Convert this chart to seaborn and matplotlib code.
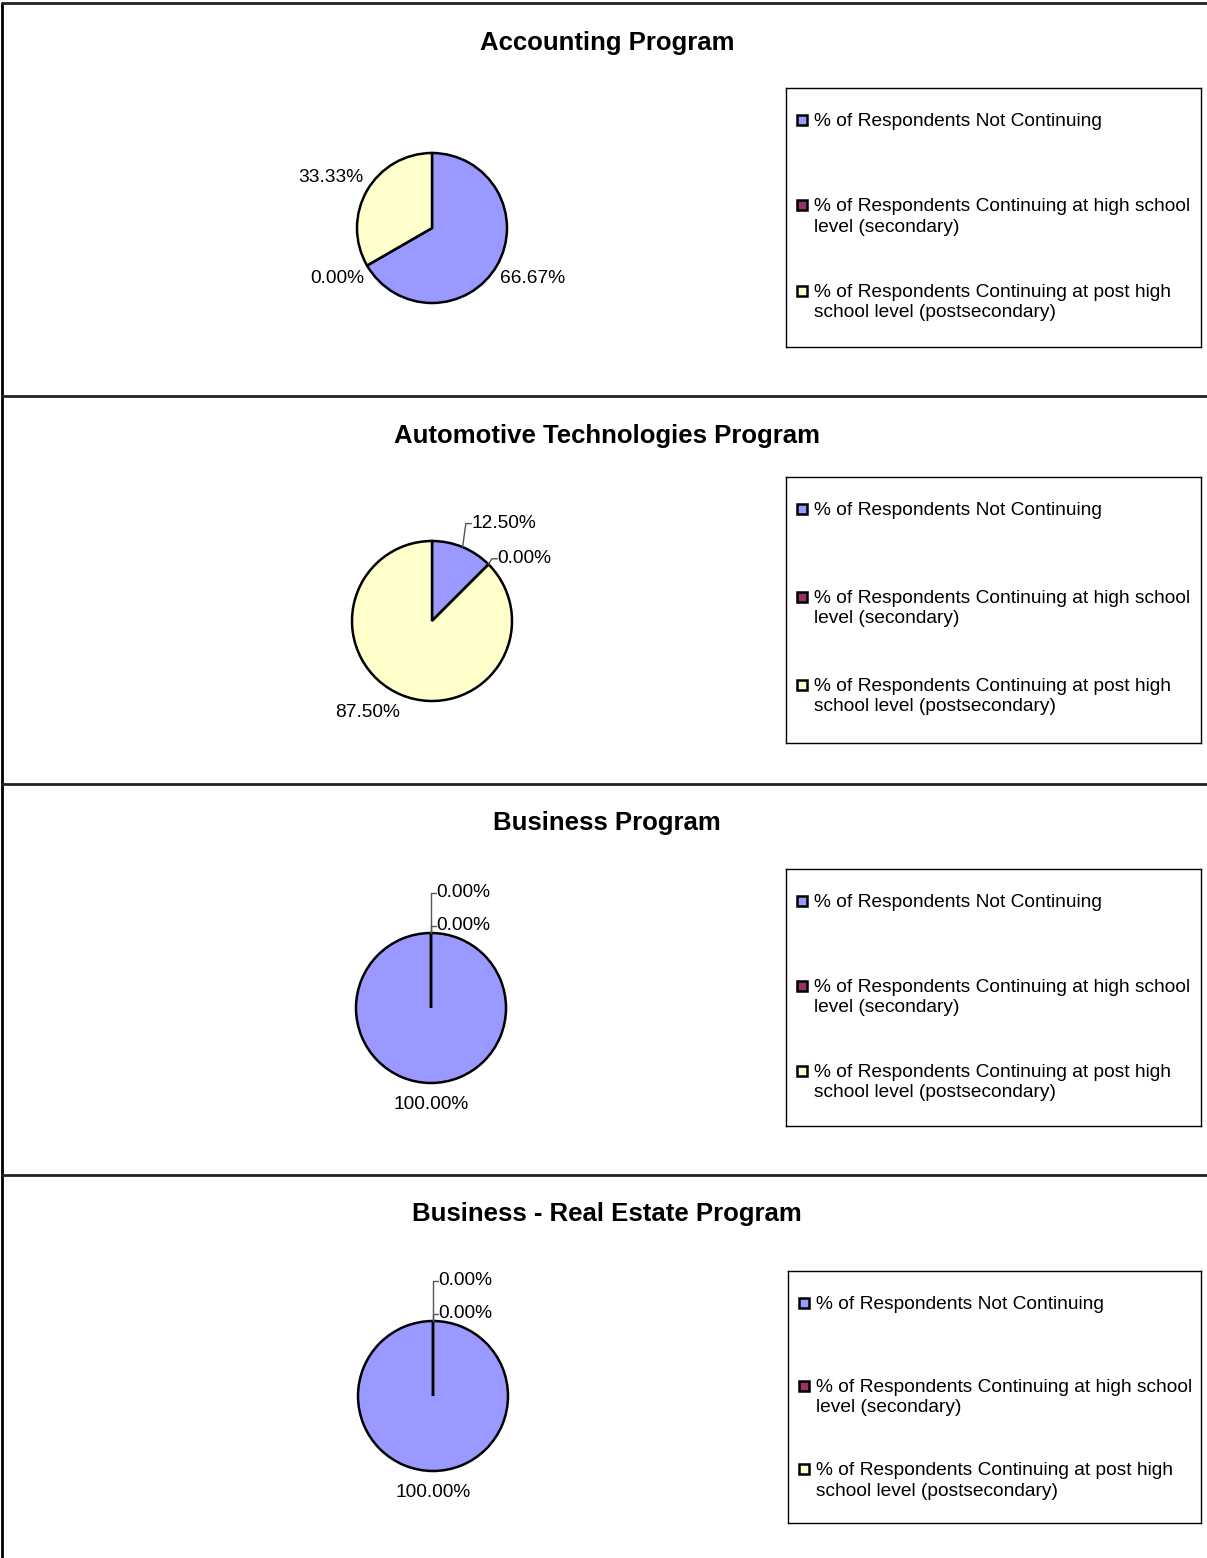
import numpy as np
import matplotlib
matplotlib.use("Agg")
import matplotlib.pyplot as plt
from matplotlib.patches import Rectangle
import seaborn as sns

# ---- data ----
programs = ["Accounting Program", "Automotive Technologies Program",
            "Business Program", "Business - Real Estate Program"]
not_continuing = [66.67, 12.50, 100.00, 100.00]
continuing_secondary = [0.00, 0.00, 0.00, 0.00]
continuing_postsecondary = [33.33, 87.50, 0.00, 0.00]
categories = ["% of Respondents Not Continuing",
              "% of Respondents Continuing at high school\nlevel (secondary)",
              "% of Respondents Continuing at post high\nschool level (postsecondary)"]

sns.set_theme(style="white")
plt.rcParams['font.family'] = ['Liberation Sans', 'DejaVu Sans']
colors = sns.color_palette(["#9999FF", "#993366", "#FFFFCC"])

W, H = 1207, 1558
fig = plt.figure(figsize=(W / 100, H / 100), dpi=100)

# layout (pixels)
panel_tops = [3, 396, 784, 1175]
title_y = [43, 436, 823, 1214]
pie_center = [(432, 228), (432, 621), (431, 1008), (433, 1396)]
pie_radius = [75, 80, 75, 75]
legend_box = [(786, 88, 1201, 347), (786, 477, 1201, 743),
              (786, 869, 1201, 1126), (788, 1271, 1201, 1523)]
use_leaders = [False, True, True, True]
FS = 13.8


def fx(x):
    return x / W


def fy(y):
    return 1 - y / H


# panel frame lines
bg = fig.add_axes([0, 0, 1, 1])
bg.set_xlim(0, W)
bg.set_ylim(H, 0)
bg.axis("off")
bg.plot([2, 2], [3, H], color="black", lw=2)
for t in panel_tops:
    bg.plot([2, W], [t, t], color="#222222", lw=2)

LIM = 1.7
for i, name in enumerate(programs):
    fig.text(0.503, fy(title_y[i]), name, ha="center", va="center",
             fontsize=18.5, fontweight="bold", color="black")

    cx, cy = pie_center[i]
    r = pie_radius[i]
    side = 2 * LIM * r
    ax = fig.add_axes([fx(cx - side / 2), fy(cy + side / 2), side / W, side / H])

    vals = [not_continuing[i], continuing_secondary[i], continuing_postsecondary[i]]
    ax.pie(vals, colors=colors, startangle=90, counterclock=False,
           wedgeprops=dict(edgecolor="black", linewidth=1.8))
    ax.set_xlim(-LIM, LIM)
    ax.set_ylim(-LIM, LIM)
    ax.set_aspect("equal")
    ax.axis("off")

    # data labels
    start = 90.0
    total = sum(vals)
    leader_labels = []
    for v in vals:
        span = 360.0 * v / total
        mid = np.deg2rad(start - span / 2)
        start -= span
        ex, ey = np.cos(mid), np.sin(mid)
        lab = f"{v:.2f}%"
        if use_leaders[i] and v < 20:
            ly = 1.1 * ey
            # push an earlier nearby label upward
            for other in leader_labels:
                if abs(other["ex"] - ex) < 0.5 and abs(other["y"] - ly) < 0.4:
                    other["y"] = ly + 0.44
            leader_labels.append(dict(ex=ex, ey=ey, y=ly, text=lab))
        elif abs(ex) < 0.05:
            ax.text(0, 1.29 * ey, lab, ha="center", va="center",
                    fontsize=FS, color="black")
        else:
            ha = "left" if ex > 0 else "right"
            va = "top" if ey < 0 else "bottom"
            ax.text(1.05 * ex, 1.12 * ey, lab, ha=ha, va=va,
                    fontsize=FS, color="black")

    for lb in leader_labels:
        ex, ey, ly = lb["ex"], lb["ey"], lb["y"]
        elbow_x = ex + (0.04 if abs(ex) > 0.05 else 0.0)
        ax.plot([ex, elbow_x, elbow_x + 0.07], [ey, ly, ly],
                color="#555555", lw=1, zorder=1)
        ax.text(elbow_x + 0.07, ly, lb["text"], ha="left", va="center",
                fontsize=FS, color="black")

    # legend box
    x0, y0, x1, y1 = legend_box[i]
    lg = fig.add_axes([fx(x0), fy(y1), (x1 - x0) / W, (y1 - y0) / H])
    lg.set_xlim(0, x1 - x0)
    lg.set_ylim(y1 - y0, 0)
    lg.set_xticks([])
    lg.set_yticks([])
    for s in lg.spines.values():
        s.set_color("black")
        s.set_linewidth(1)
    h = y1 - y0
    entry_y = [32, 32 + 0.33 * h, 32 + 0.66 * h]
    for k, cat in enumerate(categories):
        ey_ = entry_y[k]
        lg.add_patch(Rectangle((11, ey_ - 5), 10, 10, facecolor=colors[k],
                               edgecolor="black", lw=1.8))
        lg.text(28, ey_ - 7, cat, ha="left", va="top", fontsize=FS,
                linespacing=1.25, color="black")

fig.savefig("out.png", dpi=100)
